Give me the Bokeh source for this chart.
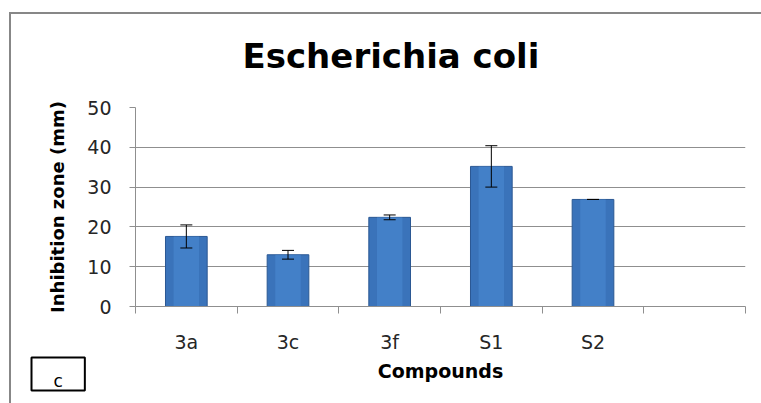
import numpy as np
from bokeh.plotting import figure
from bokeh.models import (ColumnDataSource, Whisker, TeeHead, FixedTicker, Range1d,
                          Title, InlineStyleSheet)
from bokeh.embed import file_html
from bokeh.resources import INLINE

# ---- data ----
categories = ["3a", "3c", "3f", "S1", "S2", ""]
values = [17.6, 13.0, 22.4, 35.2, 26.9]
errors = [2.9, 1.1, 0.6, 5.2, 0.0]
y_ticks = [0, 10, 20, 30, 40, 50]
title_text = "Escherichia coli"
x_label = "Compounds"
y_label = "Inhibition zone (mm)"
panel_tag = "c"

FONT = "DejaVu Sans"
GRID = "#8f8f8f"

n = len(categories)
centers = np.arange(n) + 0.5
vals = np.array(values)
errs = np.array(errors)
src = ColumnDataSource(dict(
    x=centers[:len(values)], top=vals, upper=vals + errs, lower=vals - errs))

p = figure(width=761, height=403, output_backend="svg", toolbar_location=None,
           x_range=Range1d(0, n), y_range=Range1d(0, y_ticks[-1]),
           min_border_left=135, min_border_right=16, min_border_top=107,
           min_border_bottom=97)
p.outline_line_color = None
p.background_fill_color = "white"
p.border_fill_color = "white"

# outer chart frame: only its top and left edges fall inside the picture
p.stylesheets = [InlineStyleSheet(css=(
    ":host { position: relative; }"
    ":host::after { content: ''; position: absolute; left: 9px; top: 12px; "
    "right: 0px; bottom: 0px; border-left: 2px solid #878787; "
    "border-top: 2px solid #878787; pointer-events: none; }"))]

# title
p.title.text = title_text
p.title.align = "left"
p.title.offset = 107
p.title.text_font = FONT
p.title.text_font_style = "bold"
p.title.text_font_size = "34px"
p.title.text_color = "black"
p.title.standoff = 64

# bars
p.vbar(x="x", top="top", width=0.41, bottom=0, source=src,
       fill_color="#3a73ba", line_color="#2b5893", line_width=1)
p.vbar(x="x", top="top", width=0.25, bottom=0, source=src,
       fill_color="#4a89d2", fill_alpha=0.6, line_color=None)

# error bars
w = Whisker(source=src, base="x", upper="upper", lower="lower", dimension="height",
            line_color="black", line_width=1, level="overlay",
            upper_head=TeeHead(size=12, line_color="black", line_width=1),
            lower_head=TeeHead(size=12, line_color="black", line_width=1))
p.add_layout(w)

# x axis: labels at centers, tick marks at category boundaries
xt = FixedTicker(ticks=list(centers), minor_ticks=list(range(n + 1)))
p.xaxis.ticker = xt
p.xaxis.major_label_overrides = {float(c): lab for c, lab in zip(centers, categories)}
p.xaxis.major_tick_out = 0
p.xaxis.major_tick_in = 0
p.xaxis.minor_tick_out = 7
p.xaxis.minor_tick_in = 0
p.xaxis.minor_tick_line_color = GRID
p.xaxis.axis_line_color = GRID
p.xaxis.major_label_standoff = 17
p.xaxis.axis_label = x_label
p.xaxis.axis_label_standoff = 4

p.yaxis.ticker = FixedTicker(ticks=y_ticks)
p.yaxis.major_tick_out = 6
p.yaxis.major_tick_in = 0
p.yaxis.minor_tick_line_color = None
p.yaxis.major_tick_line_color = GRID
p.yaxis.axis_line_color = GRID
p.yaxis.major_label_standoff = 18
p.yaxis.axis_label = y_label
p.yaxis.axis_label_standoff = 16

for ax in (p.xaxis[0], p.yaxis[0]):
    ax.major_label_text_font = FONT
    ax.major_label_text_font_size = "19px"
    ax.major_label_text_color = "#262626"
    ax.axis_label_text_font = FONT
    ax.axis_label_text_font_style = "bold"
    ax.axis_label_text_color = "black"
p.xaxis[0].axis_label_text_font_size = "19px"
p.yaxis[0].axis_label_text_font_size = "18px"

p.xgrid.grid_line_color = None
p.ygrid.grid_line_color = GRID
p.ygrid.grid_line_width = 1

# panel tag box, as a second title in the bottom panel
tag = Title(text=panel_tag, align="left", offset=-104, vertical_align="top",
            standoff=-54, text_font=FONT, text_font_size="17px",
            text_font_style="normal", text_color="black",
            border_line_color="black", border_line_width=2,
            padding=dict(left=22, right=22, top=13, bottom=0))
p.add_layout(tag, "below")

open("out.html", "w").write(file_html(p, INLINE))
